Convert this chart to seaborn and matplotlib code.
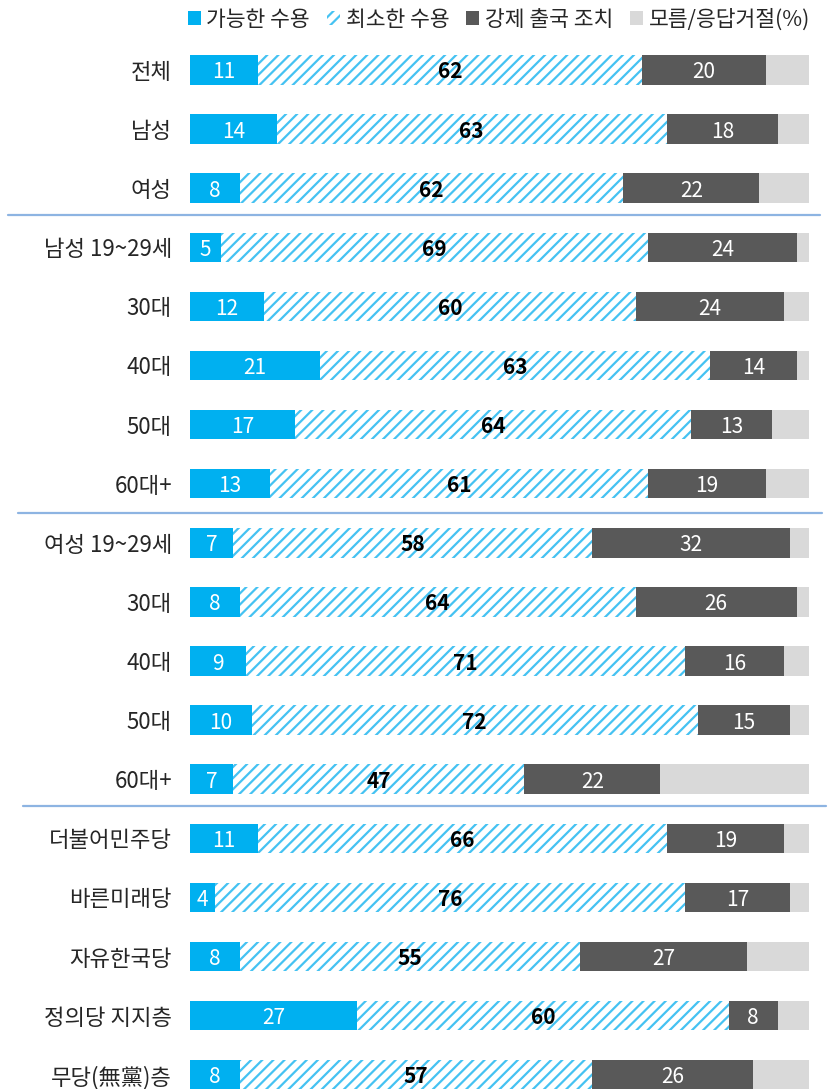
import numpy as np
import pandas as pd
import seaborn as sns
import matplotlib.pyplot as plt
from matplotlib.patches import Patch

# 응답 비율 (%)
groups = ['전체', '남성', '여성',
          '남성 19~29세', '30대', '40대', '50대', '60대+',
          '여성 19~29세', '30대', '40대', '50대', '60대+',
          '더불어민주당', '바른미래당', '자유한국당', '정의당 지지층', '무당(無黨)층']
possible = [11, 14, 8, 5, 12, 21, 17, 13, 7, 8, 9, 10, 7, 11, 4, 8, 27, 8]
minimal = [62, 63, 62, 69, 60, 63, 64, 61, 58, 64, 71, 72, 47, 66, 76, 55, 60, 57]
deport = [20, 18, 22, 24, 24, 14, 13, 19, 32, 26, 16, 15, 22, 19, 17, 27, 8, 26]
unknown = [7, 5, 8, 2, 4, 2, 6, 7, 3, 2, 4, 3, 24, 4, 3, 10, 5, 9]
legend_labels = ['가능한 수용', '최소한 수용', '강제 출국 조치', '모름/응답거절(%)']
separators = [2.45, 7.5, 12.45]

BLUE = '#00B0F0'
HATCH = '#45C2F2'
DARK = '#595959'
LIGHT = '#D9D9D9'

sns.set_style('white')
plt.rcParams['font.family'] = ['Noto Sans CJK KR', 'DejaVu Sans']
plt.rcParams['hatch.linewidth'] = 1.6

df = pd.DataFrame({'pos': np.arange(len(groups)), 'possible': possible,
                   'minimal': minimal, 'deport': deport, 'unknown': unknown})
df['c1'] = df['possible']
df['c2'] = df['c1'] + df['minimal']
df['c3'] = df['c2'] + df['deport']
df['c4'] = df['c3'] + df['unknown']

fig = plt.figure(figsize=(8.33, 10.89), dpi=100)
top_px, bot_px = 40.5, 1089
ax = fig.add_axes([190 / 833, 0, 619 / 833, (bot_px - top_px) / 1089])

w = 0.5
# stacked by overlaying cumulative totals
sns.barplot(data=df, x='c4', y='pos', orient='h', color=LIGHT, width=w,
            saturation=1, ax=ax, linewidth=0)
sns.barplot(data=df, x='c3', y='pos', orient='h', color=DARK, width=w,
            saturation=1, ax=ax, linewidth=0)
sns.barplot(data=df, x='c2', y='pos', orient='h', color='white', width=w,
            saturation=1, ax=ax, linewidth=0, hatch='///', edgecolor=HATCH)
sns.barplot(data=df, x='c1', y='pos', orient='h', color=BLUE, width=w,
            saturation=1, ax=ax, linewidth=0)

fs = 15
for i, r in df.iterrows():
    ax.text(r['c1'] / 2, i, str(r['possible']), ha='center',
            va='center_baseline', color='white', fontsize=fs)
    ax.text((r['c1'] + r['c2']) / 2, i, str(r['minimal']), ha='center',
            va='center_baseline', color='black', fontsize=fs,
            fontweight='bold')
    ax.text((r['c2'] + r['c3']) / 2, i, str(r['deport']), ha='center',
            va='center_baseline', color='white', fontsize=fs)

spacing = 59.1
ax.set_xlim(0, 100)
ax.set_ylim((bot_px - 70) / spacing, -(70 - top_px) / spacing)
ax.set_yticks(range(len(groups)))
ax.set_yticklabels(groups, fontsize=16)
ax.tick_params(axis='y', length=0, pad=13)
ax.set_xticks([])
ax.set_xlabel('')
ax.set_ylabel('')
sns.despine(ax=ax, left=True, bottom=True)

tr = ax.get_yaxis_transform()
for y, (x0, x1) in zip(separators, [(8, 820), (18, 822), (23, 826)]):
    ax.plot([(x0 - 190) / 619, (x1 - 190) / 619], [y, y], transform=tr,
            color='#8DB4E2', lw=1.6, clip_on=False)

handles = [Patch(facecolor=BLUE, linewidth=0),
           Patch(facecolor='white', edgecolor=HATCH, hatch='///', linewidth=0),
           Patch(facecolor=DARK, linewidth=0),
           Patch(facecolor=LIGHT, linewidth=0)]
fig.legend(handles, legend_labels, loc='upper center', ncol=4,
           bbox_to_anchor=(499 / 833, 1.01), frameon=False, fontsize=15.5,
           handlelength=0.6, handleheight=0.6, handletextpad=0.25,
           columnspacing=0.8)

fig.savefig('out.png', dpi=100)
